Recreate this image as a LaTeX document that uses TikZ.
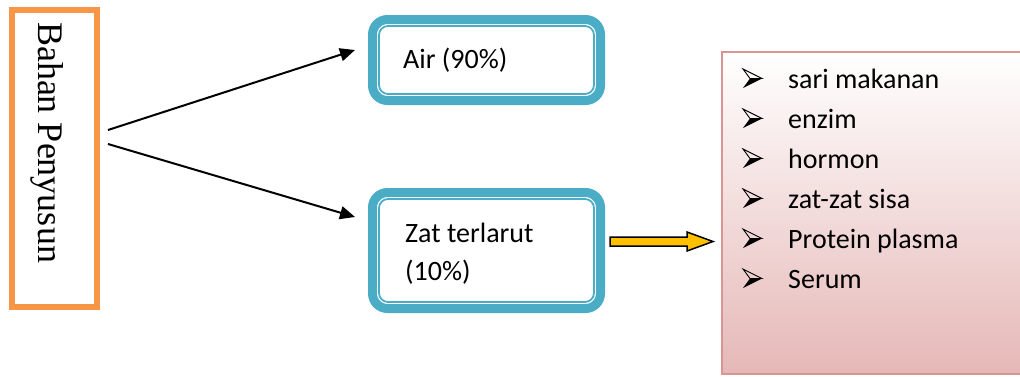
\documentclass[tikz,border=0pt]{standalone}
\usepackage{fontspec}
\setmainfont{Carlito}
\newfontfamily\serifface{Liberation Serif}
\usetikzlibrary{arrows.meta}

\definecolor{orangeline}{RGB}{247,150,70}
\definecolor{tealline}{RGB}{75,172,198}
\definecolor{pinkline}{RGB}{217,149,148}
\definecolor{pinkfill}{RGB}{229,184,183}
\definecolor{gold}{RGB}{255,192,0}

\tikzset{
  labelbox/.style={draw=orangeline, line width=6pt, outer sep=0pt, inner sep=0pt},
  partbox/.style={draw=tealline, line width=9pt, rounded corners=15pt, outer sep=0pt, inner sep=0pt},
  innerline/.style={draw=tealline, line width=1.8pt, rounded corners=9pt},
  listbox/.style={draw=pinkline, line width=2pt, top color=white, bottom color=pinkfill,
    outer sep=0pt, inner sep=0pt},
  bodytext/.style={font=\fontsize{28}{38}\selectfont, inner sep=0pt, anchor=base west},
  link/.style={-{Triangle[length=15pt,width=13pt]}, line width=2pt},
  blockarrow/.style={draw=black, fill=gold, line width=1.5pt, line join=miter},
  arrowbullet/.pic={
    \draw[line width=0.9pt, line join=miter] (-19,-9.5) -- (0,0) -- (-12,0) -- cycle;
    \fill (-12,0) -- (0,0) -- (-19,9.5) -- cycle;
  }
}

\begin{document}
\begin{tikzpicture}[x=1pt, y=-1pt]
\useasboundingbox (0,0) rectangle (1020,376);

% left column: the vertical label
\node[labelbox, minimum width=85.5pt, minimum height=297pt] (bahan) at (54.25,158.5) {};
\node[font=\serifface\fontsize{36}{40}\selectfont, rotate=-90, anchor=base, inner sep=0pt]
  (bahantext) at (38,142.5) {Bahan Penyusun};

% middle column: the two components
\node[partbox, minimum width=228pt, minimum height=81pt] (air) at (486.5,60) {};
\draw[innerline] ([shift={(6.5,6.5)}]air.north west) rectangle ([shift={(-6.5,-6.5)}]air.south east);
\node[bodytext] (airtext) at (403,68) {Air (90\%)};

\node[partbox, minimum width=228pt, minimum height=116pt] (zat) at (486.5,250.5) {};
\draw[innerline] ([shift={(6.5,6.5)}]zat.north west) rectangle ([shift={(-6.5,-6.5)}]zat.south east);
\node[bodytext] (zattext) at (405,242) {Zat terlarut};
\node[bodytext] (zatpct) at (405,280) {(10\%)};

% connectors from the label to both components
\coordinate (fromA) at ([shift={(11,-28.5)}]bahan.east);
\coordinate (fromB) at ([shift={(11,-14.5)}]bahan.east);
\coordinate (toA) at ([shift={(-17.5,-10)}]air.west);
\coordinate (toB) at ([shift={(-17.5,-33.5)}]zat.west);
\draw[link] (fromA) -- (toA);
\draw[link] (fromB) -- (toB);

% right column: list of dissolved substances
\node[listbox, anchor=north west, minimum width=340pt, minimum height=322pt] (list) at (722,52) {};

\coordinate (ya) at ([shift={(9.5,-9)}]zat.east);
\draw[blockarrow] (ya) ++(0,-4.5) -- ++(77,0) -- ++(0,-5) -- ++(26,9.5)
  -- ++(-26,9.5) -- ++(0,-5) -- ++(-77,0) -- cycle;

\foreach \y/\t [count=\i] in {88/sari makanan, 128/enzim, 168/hormon,
    208/zat-zat sisa, 248/Protein plasma, 288/Serum} {
  \pic at (762,\y-9.5) {arrowbullet};
  \node[bodytext] (item\i) at (788,\y) {\t};
}
\end{tikzpicture}
\end{document}
